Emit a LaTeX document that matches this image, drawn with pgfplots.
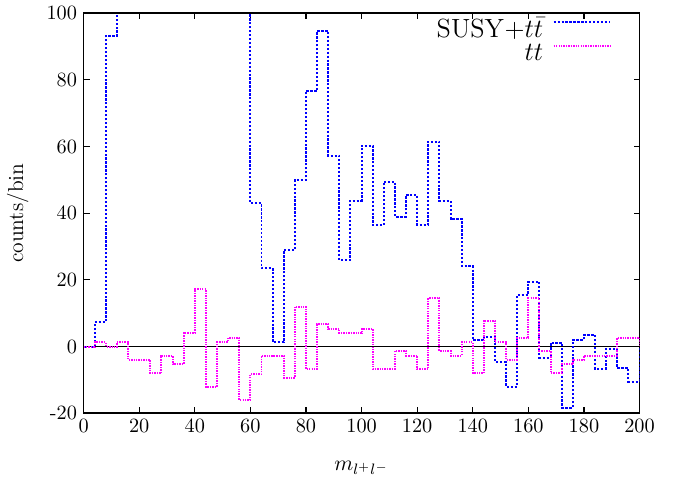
\RequirePackage{fix-cm}
\documentclass[border=0pt]{standalone}
\usepackage{pgfplots}
\pgfplotsset{compat=1.18}
\definecolor{mag}{RGB}{255,0,255}
\definecolor{blu}{RGB}{0,0,255}
\pgfplotstableread{
x y
0 0
4 7.3
8 93.2
12 200
16 200
20 200
24 200
28 200
32 200
36 200
40 200
44 200
48 200
52 200
56 200
60 43
64 23.5
68 1.3
72 28.9
76 50
80 76.7
84 94.7
88 57.3
92 26
96 43.8
100 60.3
104 36.5
108 49.5
112 39
116 45.5
120 36.5
124 61.5
128 43.7
132 38.3
136 24.2
140 2
144 3
148 -4.6
152 -12
156 15.5
160 19.5
164 -3.3
168 1.2
172 -18.3
176 2.1
180 3.5
184 -6.6
188 -0.7
192 -6.5
196 -10.5
200 -10.5
200 0
}\susy
\pgfplotstableread{
x y
0 0
4 1.3
8 0
12 1.3
16 -4
20 -4
24 -8
28 -2.7
32 -5.3
36 4
40 17.2
44 -12
48 1.3
52 2.7
56 -16
60 -8.3
64 -2.7
68 -2.7
72 -9.3
76 12
80 -6.7
84 6.7
88 5.3
92 4
96 4
100 5.3
104 -6.7
108 -6.7
112 -1.3
116 -2.7
120 -6.7
124 14.5
128 -1.3
132 -2.7
136 1.3
140 -8
144 7.8
148 1.3
152 -4
156 2.7
160 14.5
164 -1.3
168 -8
172 -5.3
176 -4
180 -2.7
184 -2.7
188 -2.7
192 2.7
196 2.7
200 2.7
200 0
}\ttbar
\begin{document}
\begin{tikzpicture}
\begin{axis}[
  scale only axis,
  width=295.9pt, height=212.9pt,
  xmin=0, xmax=200, ymin=-20, ymax=100,
  xtick={0,20,...,200},
  ytick={-20,0,20,40,60,80,100},
  yticklabels={{-20},0,20,40,60,80,100},
  tick label style={font=\fontsize{10.8}{13}\selectfont},
  label style={font=\fontsize{11.5}{14}\selectfont},
  tick align=inside,
  major tick length=3.2pt,
  axis line style={line width=0.8pt},
  every tick/.style={black, line width=0.6pt},
  xlabel={$m_{l^+l^-}$},
  ylabel={counts/bin},
  xlabel style={at={(axis description cs:0.5,-0.1376)}, anchor=center},
  ylabel style={at={(axis description cs:-0.1186,0.5)}, anchor=center},
  legend plot pos=right,
  legend cell align=right,
  legend style={at={(axis description cs:1,1)}, anchor=north east, draw=none, fill=none, inner sep=0pt,
    xshift=-15pt, yshift=-3.5pt, row sep=3.5pt, column sep=5pt,
    font=\fontsize{14}{17}\selectfont,
    nodes={text height=9pt, text depth=0pt, inner sep=0pt}},
  legend image code/.code={\draw[#1] (0pt,3.5pt) -- (30pt,3.5pt);},
]
\addplot[black, line width=0.5pt, forget plot] coordinates {(0,0) (200,0)};
\addplot[const plot, blu, line width=1.05pt, dash pattern=on 1.2pt off 0.9pt] table[x=x,y=y] {\susy};
\addlegendentry{$\mathrm{SUSY}{+}t\bar{t}$}
\addplot[const plot, mag, line width=1.05pt, dash pattern=on 0.75pt off 0.55pt] table[x=x,y=y] {\ttbar};
\addlegendentry{$tt$}
\end{axis}
\path (current axis.south west) ++(-44.5pt,-37.4pt) coordinate (bbA);
\path (current axis.north east) ++(21pt,6.2pt) coordinate (bbB);
\useasboundingbox (bbA) rectangle (bbB);
\end{tikzpicture}
\end{document}
